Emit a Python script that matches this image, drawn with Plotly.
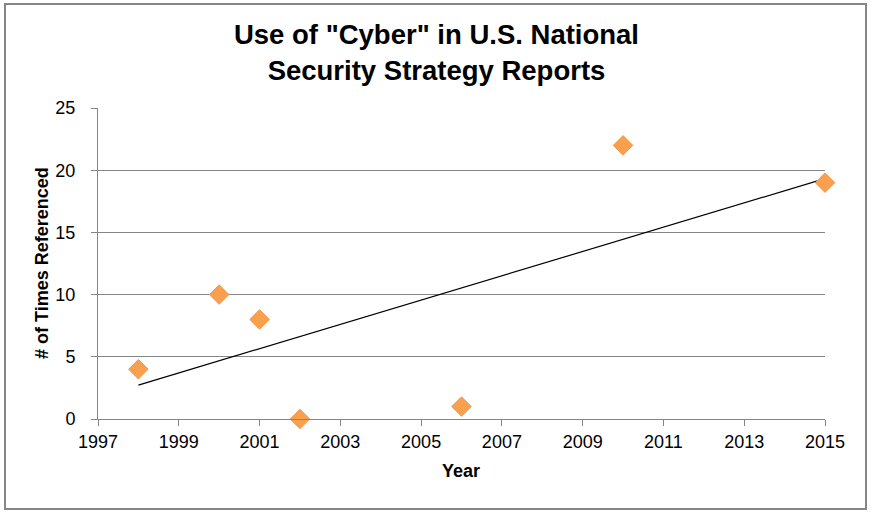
import numpy as np
import plotly.graph_objects as go

years = [1998, 2000, 2001, 2002, 2006, 2010, 2015]
counts = [4, 10, 8, 0, 1, 22, 19]
x_ticks = [1997, 1999, 2001, 2003, 2005, 2007, 2009, 2011, 2013, 2015]
y_ticks = [0, 5, 10, 15, 20, 25]

W, H = 873, 513
L, R, T, B = 98, 48, 108, 94
pw, ph = W - L - R, H - T - B

def px(xp):
    return (xp - L) / pw

def py(yp):
    return (H - B - yp) / ph

slope, intercept = np.polyfit(years, counts, 1)
tx = [min(years), max(years)]
ty = [slope * v + intercept for v in tx]

fig = go.Figure()
fig.add_trace(go.Scatter(x=tx, y=ty, mode="lines",
                         line=dict(color="black", width=1.2),
                         hoverinfo="skip", showlegend=False))
fig.add_trace(go.Scatter(x=years, y=counts, mode="markers",
                         marker=dict(symbol="diamond", size=15, color="#F9A04E",
                                     line=dict(color="#F79646", width=1)),
                         showlegend=False, cliponaxis=False))

font = "Liberation Sans, Arial, sans-serif"
fig.update_layout(
    width=W, height=H,
    margin=dict(l=L, r=R, t=T, b=B),
    paper_bgcolor="white", plot_bgcolor="white",
    font=dict(family=font, size=18, color="black"),
    title=dict(text='Use of "Cyber" in U.S. National<br>Security Strategy Reports',
               x=0.5, xref="container", xanchor="center",
               y=1 - 44 / H, yref="container", yanchor="middle",
               font=dict(family=font, size=27.5, color="black", weight="bold")),
    xaxis=dict(range=[1997, 2015], tickvals=x_ticks, showgrid=False,
               showline=True, linecolor="#868686", linewidth=1,
               ticks="outside", ticklen=6, tickcolor="#868686",
               tickfont=dict(size=18), zeroline=False),
    yaxis=dict(range=[0, 25], tickvals=y_ticks, showgrid=True,
               gridcolor="#868686", gridwidth=1,
               showline=True, linecolor="#868686", linewidth=1,
               ticks="outside", ticklen=6, tickcolor="#868686",
               ticklabelstandoff=12,
               tickfont=dict(size=18), zeroline=False),
    shapes=[dict(type="rect", xref="paper", yref="paper",
                 x0=px(5), x1=px(866), y0=py(509), y1=py(4),
                 line=dict(color="#868686", width=2), fillcolor="rgba(0,0,0,0)",
                 layer="below")],
    annotations=[
        dict(text="<b>Year</b>", xref="paper", yref="paper",
             x=px(461), y=py(471), xanchor="center", yanchor="middle",
             showarrow=False, font=dict(size=18)),
        dict(text="<b># of Times Referenced</b>", xref="paper", yref="paper",
             x=px(42), y=py(263), xanchor="center", yanchor="middle",
             textangle=-90, showarrow=False, font=dict(size=18)),
    ],
)

fig.write_html("out.html", config={"displayModeBar": False},
               post_script="document.body.style.margin='0';")
